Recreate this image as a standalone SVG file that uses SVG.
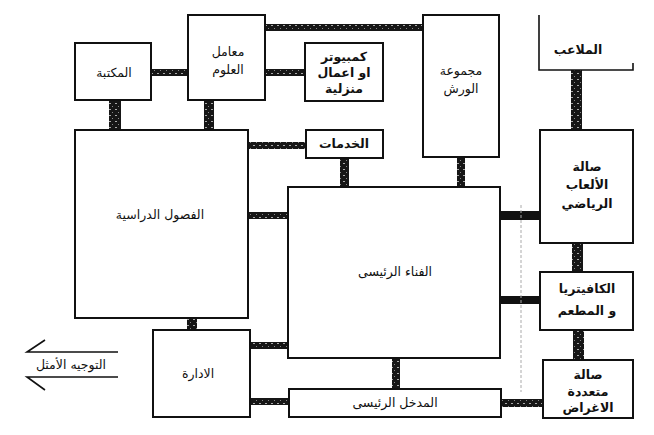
<svg xmlns="http://www.w3.org/2000/svg" width="654" height="435" viewBox="0 0 654 435">
<style>
.box{fill:#fff;stroke:#111;stroke-width:2}
.t{font-family:"DejaVu Sans",sans-serif;font-size:12.5px;fill:#111;text-anchor:middle;direction:rtl}
.b{font-weight:bold}
.c{fill:url(#hatch)}
.s{fill:#111}
.ln{stroke:#111;stroke-width:1.6;fill:none}
</style>
<defs>
<pattern id="hatch" width="6" height="6" patternUnits="userSpaceOnUse">
<rect width="6" height="6" fill="#161616"/>
<rect x="1" y="1" width="2" height="1" fill="#aaa"/>
<rect x="4" y="4" width="1" height="1" fill="#888"/>
</pattern>
</defs>
<rect width="654" height="435" fill="#fff"/>
<g id="connectors">
<rect class="c" x="151" y="69" width="37" height="7"/>
<rect class="c" x="265" y="69" width="40" height="7"/>
<rect class="c" x="265" y="24" width="158" height="7"/>
<rect class="c" x="109" y="100" width="12" height="30"/>
<rect class="c" x="204" y="100" width="10" height="30"/>
<rect class="c" x="248" y="142" width="58" height="7"/>
<rect class="c" x="248" y="212" width="40" height="7"/>
<rect class="c" x="340" y="158" width="9" height="29"/>
<rect class="c" x="457" y="157" width="8" height="30"/>
<rect class="c" x="571" y="70" width="11" height="60"/>
<rect class="s" x="500" y="211" width="40" height="9"/>
<rect class="s" x="500" y="296" width="40" height="8"/>
<rect class="c" x="572" y="243" width="11" height="29"/>
<rect class="c" x="573" y="330" width="11" height="30"/>
<rect class="c" x="187" y="318" width="10" height="12"/>
<rect class="c" x="250" y="342" width="38" height="7"/>
<rect class="c" x="250" y="398" width="39" height="7"/>
<rect class="c" x="392" y="358" width="8" height="31"/>
<rect class="c" x="501" y="399" width="42" height="8"/>
<line x1="521" y1="205" x2="521" y2="392" stroke="#aaa" stroke-width="1" stroke-dasharray="3 2"/>
</g>
<g id="library"><rect class="box" x="75" y="43" width="76" height="57"/><text class="t" x="114" y="77">المكتبة</text></g>
<g id="labs"><rect class="box" x="188" y="15" width="77" height="85"/><text class="t" x="228" y="56">معامل</text><text class="t" x="228" y="74">العلوم</text></g>
<g id="computer"><rect class="box" x="305" y="43" width="78" height="58"/><text class="t b" x="344" y="61">كمبيوتر</text><text class="t b" x="344" y="77">او اعمال</text><text class="t b" x="344" y="93">منزلية</text></g>
<g id="workshops"><rect class="box" x="423" y="15" width="76" height="142"/><text class="t" x="461" y="75">مجموعة</text><text class="t" x="461" y="93">الورش</text></g>
<g id="fields"><path class="ln" d="M539 15 V70 H633 V63" stroke-width="2"/><text class="t b" x="578" y="54">الملاعب</text></g>
<g id="services"><rect class="box" x="306" y="130" width="77" height="28"/><text class="t b" x="344" y="148">الخدمات</text></g>
<g id="classrooms"><rect class="box" x="75" y="130" width="173" height="188"/><text class="t" x="160" y="219">الفصول الدراسية</text></g>
<g id="courtyard"><rect class="box" x="288" y="187" width="212" height="171"/><text class="t" x="395" y="276">الفناء الرئيسى</text></g>
<g id="gym"><rect class="box" x="540" y="130" width="93" height="113"/><text class="t b" x="587" y="171">صالة</text><text class="t b" x="587" y="189">الألعاب</text><text class="t b" x="587" y="208">الرياضي</text></g>
<g id="cafeteria"><rect class="box" x="540" y="272" width="93" height="58"/><text class="t b" x="587" y="293">الكافيتريا</text><text class="t b" x="587" y="315">و المطعم</text></g>
<g id="multipurpose"><rect class="box" x="543" y="360" width="90" height="58"/><text class="t b" x="588" y="379">صالة</text><text class="t b" x="588" y="396">متعددة</text><text class="t b" x="588" y="412">الاغراض</text></g>
<g id="admin"><rect class="box" x="153" y="330" width="97" height="87"/><text class="t" x="198" y="378">الادارة</text></g>
<g id="entrance"><rect class="box" x="289" y="389" width="212" height="28"/><text class="t" x="395" y="407">المدخل الرئيسى</text></g>
<g id="orientation"><path class="ln" d="M118 352 H27 L45 340 M118 377 H27 L45 390"/><text class="t" x="71" y="369">التوجيه الأمثل</text></g>
</svg>
